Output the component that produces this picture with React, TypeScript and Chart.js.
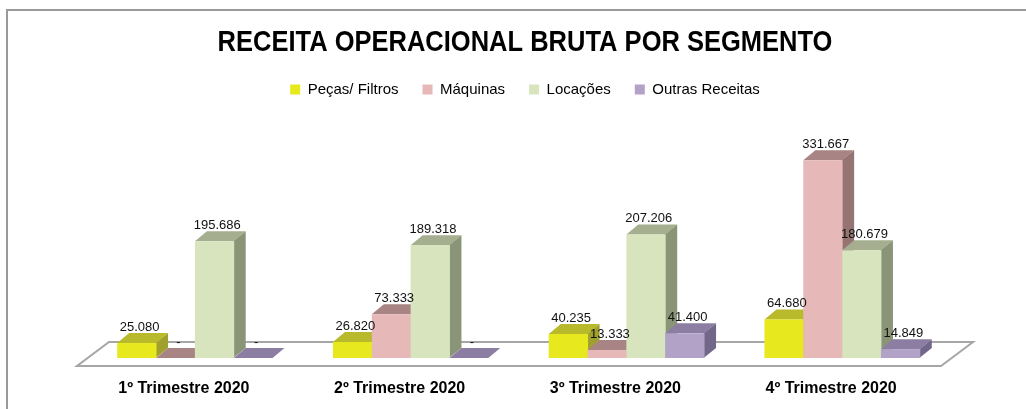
import React, { useEffect, useRef } from 'react';
import { Chart, registerables } from 'chart.js';

Chart.register(...registerables);

const titleText = 'RECEITA OPERACIONAL BRUTA POR SEGMENTO';
const categories = ['1º Trimestre 2020', '2º Trimestre 2020', '3º Trimestre 2020', '4º Trimestre 2020'];
const seriesNames = ['Peças/ Filtros', 'Máquinas', 'Locações', 'Outras Receitas'];
const pecasFiltros = [25080, 26820, 40235, 64680];
const maquinas = [0, 73333, 13333, 331667];
const locacoes = [195686, 189318, 207206, 180679];
const outrasReceitas = [0, 0, 41400, 14849];
const yMax = 421000;

const frontColors = ['#E8E81E', '#E6B9B8', '#D7E4BD', '#B3A2C7'];
const topColors = ['#B9B92C', '#A88584', '#A5AE8F', '#8C7DA3'];
const sideColors = ['#A0A02E', '#967473', '#8A9578', '#736789'];

const DX = 12;
const DY = -10;

function fmt(v: number): string {
  if (v === 0) return '-';
  return String(v).replace(/\B(?=(\d{3})+(?!\d))/g, '.');
}

const bar3d = {
  id: 'bar3d',
  beforeDraw(chart: any) {
    const ctx = chart.ctx;
    ctx.save();
    ctx.fillStyle = '#ffffff';
    ctx.fillRect(0, 0, chart.width, chart.height);
    ctx.fillStyle = '#9a9a9a';
    ctx.fillRect(6, 9, chart.width - 6, 2);
    ctx.fillRect(6, 9, 2, chart.height - 9);
    ctx.restore();
  },
  beforeDatasetsDraw(chart: any) {
    const ctx = chart.ctx;
    const a = chart.chartArea;
    ctx.save();
    // floor
    const fy = a.bottom + 8;
    const fl = a.left - 10;
    const fr = a.right - 9;
    const bdx = 32;
    const bdy = -24;
    ctx.beginPath();
    ctx.moveTo(fl, fy);
    ctx.lineTo(fr, fy);
    ctx.lineTo(fr + bdx, fy + bdy);
    ctx.lineTo(fl + bdx, fy + bdy);
    ctx.closePath();
    ctx.fillStyle = '#ffffff';
    ctx.fill();
    ctx.strokeStyle = '#a6a6a6';
    ctx.lineWidth = 2;
    ctx.stroke();

    const n = chart.data.labels.length;
    const nd = chart.data.datasets.length;
    for (let i = 0; i < n; i++) {
      for (let d = 0; d < nd; d++) {
        const el = chart.getDatasetMeta(d).data[i];
        const p = el.getProps(['x', 'y', 'base', 'width'], true);
        const l = p.x - p.width / 2;
        const r = p.x + p.width / 2;
        const top = p.y;
        const base = p.base;
        ctx.beginPath();
        ctx.moveTo(r - 0.5, top);
        ctx.lineTo(r + DX, top + DY);
        ctx.lineTo(r + DX, base + DY);
        ctx.lineTo(r - 0.5, base);
        ctx.closePath();
        ctx.fillStyle = sideColors[d];
        ctx.fill();
        ctx.beginPath();
        ctx.moveTo(l, top);
        ctx.lineTo(r, top);
        ctx.lineTo(r + DX, top + DY);
        ctx.lineTo(l + DX, top + DY);
        ctx.closePath();
        ctx.fillStyle = topColors[d];
        ctx.fill();
        if (base - top > 0) {
          ctx.fillStyle = frontColors[d];
          ctx.fillRect(l, top, r - l + 0.5, base - top);
        }
      }
    }
    ctx.restore();
    return false;
  },
  afterDraw(chart: any) {
    const ctx = chart.ctx;
    ctx.save();
    // title (condensed bold, drawn with a horizontal squeeze)
    ctx.font = 'bold 30px "Liberation Sans", Arial, sans-serif';
    ctx.fillStyle = '#000000';
    ctx.textAlign = 'center';
    ctx.textBaseline = 'middle';
    ctx.translate(525, 43);
    ctx.scale(0.85, 1);
    ctx.fillText(titleText, 0, 0);
    ctx.restore();

    ctx.save();
    ctx.font = '13px "Liberation Sans", Arial, sans-serif';
    ctx.fillStyle = '#111111';
    ctx.textAlign = 'center';
    ctx.textBaseline = 'alphabetic';
    const n = chart.data.labels.length;
    chart.data.datasets.forEach((ds: any, d: number) => {
      const meta = chart.getDatasetMeta(d);
      for (let i = 0; i < n; i++) {
        const p = meta.data[i].getProps(['x', 'y'], true);
        ctx.fillText(fmt(ds.data[i]), p.x + 3, p.y + DY - 2);
      }
    });
    ctx.restore();
  },
};

export default function App() {
  const ref = useRef<HTMLCanvasElement | null>(null);
  useEffect(() => {
    if (!ref.current) return;
    const chart = new Chart(ref.current, {
      type: 'bar',
      data: {
        labels: categories,
        datasets: [
          { label: seriesNames[0], data: pecasFiltros, backgroundColor: frontColors[0], borderWidth: 0 },
          { label: seriesNames[1], data: maquinas, backgroundColor: frontColors[1], borderWidth: 0 },
          { label: seriesNames[2], data: locacoes, backgroundColor: frontColors[2], borderWidth: 0 },
          { label: seriesNames[3], data: outrasReceitas, backgroundColor: frontColors[3], borderWidth: 0 },
        ],
      },
      options: {
        responsive: false,
        animation: false,
        events: [],
        layout: { padding: { left: 87, right: 63, top: 58, bottom: 0 } },
        datasets: { bar: { barPercentage: 1, categoryPercentage: 0.72 } },
        scales: {
          x: {
            grid: { display: false, drawTicks: false },
            border: { display: false },
            ticks: {
              padding: 21,
              labelOffset: -11,
              color: '#000000',
              font: { family: '"Liberation Sans", Arial, sans-serif', size: 16, weight: 'bold' },
            },
            afterFit: (s: any) => { s.height = 51; },
          },
          y: {
            position: 'right',
            min: 0,
            max: yMax,
            grid: { display: false, drawTicks: false },
            border: { display: false },
            ticks: { display: false },
            afterFit: (s: any) => { s.width = 13; },
          },
        },
        plugins: {
          title: { display: false },
          legend: {
            display: true,
            position: 'top',
            labels: {
              boxWidth: 10,
              boxHeight: 10,
              padding: 24,
              color: '#000000',
              font: { family: '"Liberation Sans", Arial, sans-serif', size: 15 },
            },
          },
          tooltip: { enabled: false },
        },
      } as any,
      plugins: [bar3d],
    });
    return () => chart.destroy();
  }, []);
  return (
    <div style={{ position: 'absolute', left: 0, top: 0, width: 1026, height: 409 }}>
      <canvas ref={ref} width={1026} height={409} style={{ display: 'block' }} />
    </div>
  );
}
